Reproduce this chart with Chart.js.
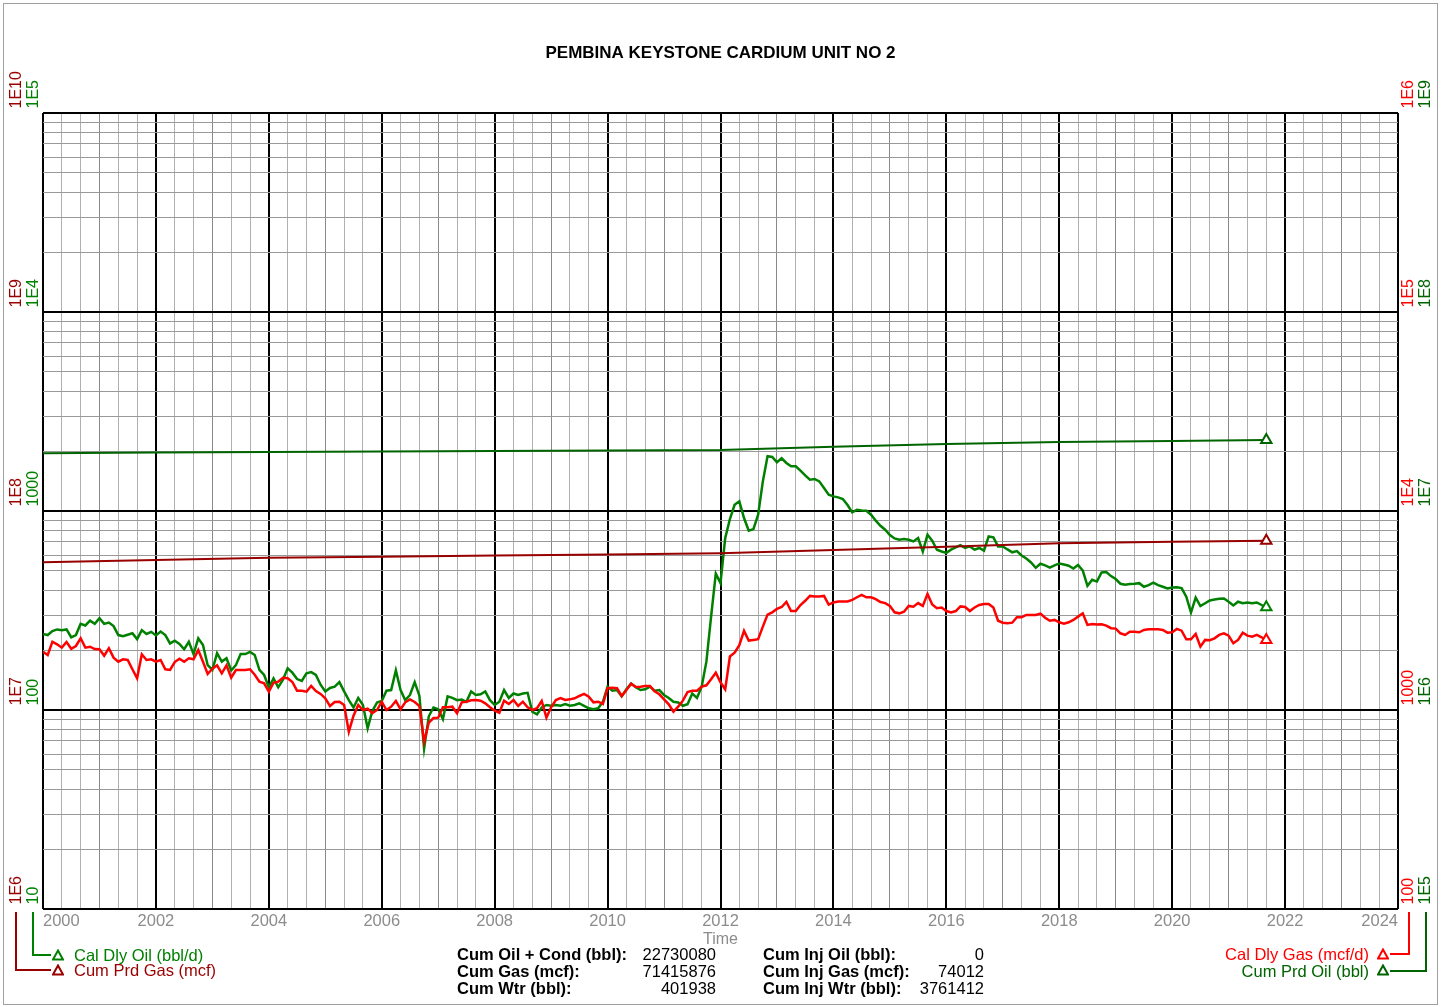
<!DOCTYPE html>
<html>
<head>
<meta charset="utf-8">
<title>Pembina Keystone Cardium Unit No 2</title>
<script src="https://cdn.jsdelivr.net/npm/chart.js@4.4.1/dist/chart.umd.min.js"></script>
<style>
  html, body { margin: 0; padding: 0; background: #fff; }
  body { font-family: "Liberation Sans", Arial, sans-serif; }
  #page { position: relative; width: 1445px; height: 1007px; overflow: hidden; }
  #frame { position: absolute; left: 3px; top: 3px; width: 1435px; height: 1002px; border: 1px solid #a0a0a0; box-sizing: border-box; }
  #chart { position: absolute; left: 0; top: 0; }
  .txt { position: absolute; font-size: 16.5px; line-height: 18px; white-space: nowrap; }
  .bracket { position: absolute; box-sizing: border-box; }
  .tri { position: absolute; width: 12px; height: 12px; }
  .stat { position: absolute; font-size: 16.5px; line-height: 17px; white-space: nowrap; color: #000; }
</style>
</head>
<body>
<div id="page">
  <div id="frame"></div>
  <canvas id="chart" width="1445" height="1007"></canvas>

  <!-- left legend -->
  <div class="bracket" style="left:32px;top:912px;width:19px;height:44px;border-left:2px solid #008000;border-bottom:2px solid #008000;"></div>
  <div class="bracket" style="left:15px;top:912px;width:36px;height:59px;border-left:2px solid #990000;border-bottom:2px solid #990000;"></div>
  <svg class="tri" style="left:52px;top:949px" viewBox="0 0 12 12"><polygon points="6,1.5 11,10.5 1,10.5" fill="none" stroke="#008000" stroke-width="2"/></svg>
  <svg class="tri" style="left:52px;top:964px" viewBox="0 0 12 12"><polygon points="6,1.5 11,10.5 1,10.5" fill="none" stroke="#990000" stroke-width="2"/></svg>
  <div class="txt" style="left:74px;top:946px;color:#008000">Cal Dly Oil (bbl/d)</div>
  <div class="txt" style="left:74px;top:961px;color:#990000">Cum Prd Gas (mcf)</div>

  <!-- right legend -->
  <div class="bracket" style="left:1390px;top:912px;width:20px;height:43px;border-right:2px solid #ff0000;border-bottom:2px solid #ff0000;"></div>
  <div class="bracket" style="left:1390px;top:912px;width:37px;height:60px;border-right:2px solid #006400;border-bottom:2px solid #006400;"></div>
  <svg class="tri" style="left:1377px;top:948px" viewBox="0 0 12 12"><polygon points="6,1.5 11,10.5 1,10.5" fill="none" stroke="#ff0000" stroke-width="2"/></svg>
  <svg class="tri" style="left:1377px;top:964px" viewBox="0 0 12 12"><polygon points="6,1.5 11,10.5 1,10.5" fill="none" stroke="#006400" stroke-width="2"/></svg>
  <div class="txt" style="right:76px;top:945px;color:#ff0000;text-align:right">Cal Dly Gas (mcf/d)</div>
  <div class="txt" style="right:76px;top:962px;color:#006400;text-align:right">Cum Prd Oil (bbl)</div>

  <!-- cumulative summary -->
  <div class="stat" style="left:457px;top:946px;font-weight:bold">Cum Oil + Cond (bbl):<br>Cum Gas (mcf):<br>Cum Wtr (bbl):</div>
  <div class="stat" style="right:729px;top:946px;text-align:right">22730080<br>71415876<br>401938</div>
  <div class="stat" style="left:763px;top:946px;font-weight:bold">Cum Inj Oil (bbl):<br>Cum Inj Gas (mcf):<br>Cum Inj Wtr (bbl):</div>
  <div class="stat" style="right:461px;top:946px;text-align:right">0<br>74012<br>3761412</div>
</div>

<script>
// monthly values, Jan 2000 .. Sep 2021
const oilRate = [
  241, 238, 249, 254, 252, 254, 232, 238, 271, 266, 281, 271,
  289, 271, 275, 264, 238, 235, 239, 243, 227, 252, 241, 247,
  237, 248, 238, 216, 223, 215, 202, 220, 191, 229, 212, 168,
  159, 193, 175, 182, 158, 168, 191, 191, 196, 189, 159, 150,
  130, 144, 130, 142, 162, 154, 143, 140, 153, 155, 150, 134,
  124, 129, 131, 138, 124, 112, 103, 115, 106, 81, 99, 109,
  111, 125, 126, 158, 126, 112, 119, 138, 118, 64, 93, 103,
  101, 90, 117, 115, 112, 113, 110, 124, 119, 120, 124, 112,
  106, 110, 126, 115, 121, 119, 121, 122, 98, 95, 103, 106,
  105, 106, 105, 107, 105, 106, 108, 105, 102, 101, 102, 110,
  131, 125, 126, 117, 127, 136, 130, 126, 127, 131, 125, 126,
  119, 115, 110, 109, 105, 107, 121, 115, 131, 175, 295, 484,
  434, 731, 911, 1075, 1118, 922, 796, 811, 958, 1409, 1884, 1870,
  1757, 1841, 1744, 1677, 1677, 1596, 1510, 1437, 1449, 1409, 1305, 1208,
  1184, 1171, 1149, 1071, 984, 1015, 1007, 1003, 958, 894, 843, 805,
  757, 728, 717, 723, 717, 703, 731, 626, 760, 709, 639, 626,
  616, 639, 656, 674, 652, 664, 639, 652, 632, 745, 737, 664,
  664, 641, 620, 629, 598, 577, 551, 518, 543, 533, 520, 533,
  545, 538, 531, 514, 536, 502, 421, 451, 442, 491, 494, 471,
  455, 431, 426, 430, 431, 434, 416, 424, 436, 424, 416, 408,
  413, 414, 410, 371, 309, 367, 333, 344, 355, 359, 362, 363,
  350, 335, 350, 344, 347, 344, 347, 337, 328
];

const gasRate = [
  1963, 1890, 2204, 2138, 2057, 2196, 2032, 2097, 2293, 2057, 2080, 2025,
  2018, 1875, 2042, 1832, 1748, 1798, 1784, 1602, 1443, 1905, 1784, 1798,
  1748, 1784, 1602, 1589, 1742, 1811, 1748, 1819, 1798, 2000, 1748, 1517,
  1613, 1677, 1529, 1677, 1453, 1589, 1589, 1589, 1602, 1504, 1388, 1362,
  1236, 1371, 1388, 1453, 1443, 1383, 1250, 1250, 1236, 1320, 1246, 1204,
  1145, 1047, 1097, 1101, 1060, 778, 936, 1060, 1000, 1015, 963, 1000,
  1101, 1000, 1039, 1110, 1008, 1093, 1131, 1097, 1047, 693, 863, 911,
  915, 1032, 1032, 1039, 963, 1093, 1101, 1119, 1123, 1114, 1080, 1032,
  992, 969, 1114, 1072, 1123, 1047, 1101, 1032, 1000, 1020, 1110, 915,
  1032, 1123, 1149, 1123, 1131, 1145, 1176, 1204, 1167, 1093, 1101, 1072,
  1286, 1295, 1286, 1176, 1260, 1356, 1305, 1310, 1320, 1320, 1242, 1199,
  1131, 1068, 981, 1039, 1114, 1231, 1250, 1250, 1310, 1331, 1427, 1540,
  1378, 1270, 1857, 1942, 2115, 2497, 2232, 2250, 2268, 2625, 3015, 3096,
  3221, 3294, 3497, 3143, 3143, 3370, 3538, 3744, 3715, 3715, 3744, 3382,
  3470, 3510, 3510, 3510, 3576, 3686, 3788, 3686, 3686, 3605, 3486, 3445,
  3334, 3096, 3060, 3117, 3334, 3307, 3445, 3334, 3832, 3390, 3250, 3271,
  3143, 3088, 3143, 3316, 3294, 3143, 3275, 3370, 3412, 3412, 3271, 2810,
  2746, 2726, 2746, 2925, 2925, 3005, 3005, 3005, 3050, 2910, 2810, 2836,
  2758, 2715, 2758, 2836, 2946, 3060, 2676, 2707, 2686, 2697, 2655, 2577,
  2565, 2429, 2384, 2475, 2475, 2457, 2526, 2545, 2545, 2545, 2526, 2446,
  2457, 2556, 2505, 2268, 2268, 2410, 2081, 2250, 2241, 2293, 2384, 2429,
  2364, 2164, 2250, 2446, 2364, 2337, 2384, 2320, 2250
];

// cumulative curves, read at a few dates
const cumYears = [2000, 2002, 2004, 2006, 2008, 2010, 2012, 2014, 2016, 2018, 2020, 2021.667];
const cumOil = [1.950e7, 1.965e7, 1.980e7, 1.990e7, 2.003e7, 2.015e7, 2.026e7, 2.105e7, 2.172e7, 2.222e7, 2.248e7, 2.273e7];
const cumGas = [5.523e7, 5.672e7, 5.825e7, 5.893e7, 5.975e7, 6.050e7, 6.128e7, 6.368e7, 6.616e7, 6.882e7, 7.010e7, 7.093e7];

const months = oilRate.map((_, i) => 2000 + i / 12);

const FONT = '"Liberation Sans", Arial, sans-serif';
const GREEN = '#008000';
const DKGREEN = '#006400';
const RED = '#ff0000';
const DKRED = '#990000';

function isEvenYear(v) {
  const r = Math.round(v);
  return Math.abs(v - r) < 1e-6 && r % 2 === 0;
}
function isYear(v) {
  return Math.abs(v - Math.round(v)) < 1e-6;
}
function isDecade(v) {
  const l = Math.log10(v);
  return Math.abs(l - Math.round(l)) < 1e-9;
}
function logTicks(min, max) {
  const ticks = [];
  const e0 = Math.round(Math.log10(min)), e1 = Math.round(Math.log10(max));
  for (let e = e0; e < e1; e++) {
    for (let m = 1; m <= 9; m++) ticks.push({ value: m * Math.pow(10, e) });
  }
  ticks.push({ value: max });
  return ticks;
}
function decadeLabel(v) {
  const e = Math.round(Math.log10(v));
  return v < 1e4 ? String(Math.round(v)) : '1E' + e;
}

const lastIdx = months.length - 1;
const endMarker = (n) => (c) => (c.dataIndex === n ? 6 : 0);

// vertical decade labels beside the plot
const axisLabels = {
  id: 'axisLabels',
  afterDraw(chart) {
    const ctx = chart.ctx;
    const specs = [
      { id: 'yGasCum', x: 17, color: DKRED },
      { id: 'yOilRate', x: 33.5, color: GREEN },
      { id: 'yGasRate', x: 1409, color: RED },
      { id: 'yOilCum', x: 1425.5, color: DKGREEN }
    ];
    ctx.save();
    ctx.font = '16px ' + FONT;
    ctx.textAlign = 'left';
    ctx.textBaseline = 'middle';
    specs.forEach(s => {
      const scale = chart.scales[s.id];
      logTicks(scale.min, scale.max).map(t => t.value).filter(isDecade).forEach(v => {
        const y = scale.getPixelForValue(v);
        ctx.save();
        ctx.translate(s.x, y - 4.5);
        ctx.rotate(-Math.PI / 2);
        ctx.fillStyle = s.color;
        ctx.fillText(decadeLabel(v), 0, 0);
        ctx.restore();
      });
    });
    ctx.restore();
  }
};

new Chart(document.getElementById('chart'), {
  type: 'line',
  data: {
    datasets: [
      {
        label: 'Cum Prd Gas (mcf)',
        data: cumYears.map((x, i) => ({ x, y: cumGas[i] })),
        yAxisID: 'yGasCum',
        borderColor: DKRED,
        borderWidth: 2,
        pointStyle: 'triangle',
        pointRadius: endMarker(cumYears.length - 1),
        pointBorderWidth: 2,
        pointBorderColor: DKRED,
        pointBackgroundColor: '#fff',
        order: 0
      },
      {
        label: 'Cum Prd Oil (bbl)',
        data: cumYears.map((x, i) => ({ x, y: cumOil[i] })),
        yAxisID: 'yOilCum',
        borderColor: DKGREEN,
        borderWidth: 2,
        pointStyle: 'triangle',
        pointRadius: endMarker(cumYears.length - 1),
        pointBorderWidth: 2,
        pointBorderColor: DKGREEN,
        pointBackgroundColor: '#fff',
        order: 0
      },
      {
        label: 'Cal Dly Gas (mcf/d)',
        data: months.map((x, i) => ({ x, y: gasRate[i] })),
        yAxisID: 'yGasRate',
        borderColor: RED,
        borderWidth: 2.5,
        pointStyle: 'triangle',
        pointRadius: endMarker(lastIdx),
        pointBorderWidth: 2,
        pointBorderColor: RED,
        pointBackgroundColor: '#fff',
        order: 1
      },
      {
        label: 'Cal Dly Oil (bbl/d)',
        data: months.map((x, i) => ({ x, y: oilRate[i] })),
        yAxisID: 'yOilRate',
        borderColor: GREEN,
        borderWidth: 2.5,
        pointStyle: 'triangle',
        pointRadius: endMarker(lastIdx),
        pointBorderWidth: 2,
        pointBorderColor: GREEN,
        pointBackgroundColor: '#fff',
        order: 2
      }
    ]
  },
  options: {
    responsive: false,
    animation: false,
    layout: { padding: { left: 43, right: 47, top: 0, bottom: 53 } },
    plugins: {
      legend: { display: false },
      tooltip: { enabled: false },
      title: {
        display: true,
        text: 'PEMBINA KEYSTONE CARDIUM UNIT NO 2',
        color: '#000',
        font: { family: FONT, size: 17, weight: 'bold' },
        padding: { top: 43.6, bottom: 49 }
      }
    },
    scales: {
      x: {
        type: 'linear',
        position: 'bottom',
        min: 2000,
        max: 2024,
        afterBuildTicks: (s) => {
          const t = [];
          for (let k = 0; k <= 72; k++) t.push({ value: 2000 + k / 3 });
          s.ticks = t;
        },
        afterFit: (s) => { s.height = 45; },
        grid: {
          drawTicks: false,
          color: (c) => isEvenYear(c.tick.value) ? '#000' : (isYear(c.tick.value) ? '#8a8a8a' : '#b0b0b0'),
          lineWidth: (c) => isEvenYear(c.tick.value) ? 2 : 1
        },
        border: { display: false },
        ticks: {
          autoSkip: false,
          maxRotation: 0,
          minRotation: 0,
          align: 'inner',
          padding: 3,
          color: '#8c8c8c',
          font: { family: FONT, size: 16.5 },
          callback: (v) => isEvenYear(v) ? String(Math.round(v)) : ''
        },
        title: {
          display: true,
          text: 'Time',
          color: '#8c8c8c',
          font: { family: FONT, size: 16 },
          padding: { top: 0, bottom: 5 }
        }
      },
      yOilRate: {
        type: 'logarithmic',
        position: 'left',
        min: 10,
        max: 1e5,
        afterBuildTicks: (s) => { s.ticks = logTicks(10, 1e5); },
        afterFit: (s) => { s.width = 0; },
        grid: {
          drawTicks: false,
          color: (c) => isDecade(c.tick.value) ? '#000' : '#999999',
          lineWidth: (c) => isDecade(c.tick.value) ? 2 : 1
        },
        border: { display: false },
        ticks: { display: false }
      },
      yGasCum: { type: 'logarithmic', position: 'left', display: false, min: 1e6, max: 1e10 },
      yGasRate: { type: 'logarithmic', position: 'right', display: false, min: 100, max: 1e6 },
      yOilCum: { type: 'logarithmic', position: 'right', display: false, min: 1e5, max: 1e9 }
    }
  },
  plugins: [axisLabels]
});
</script>
</body>
</html>
